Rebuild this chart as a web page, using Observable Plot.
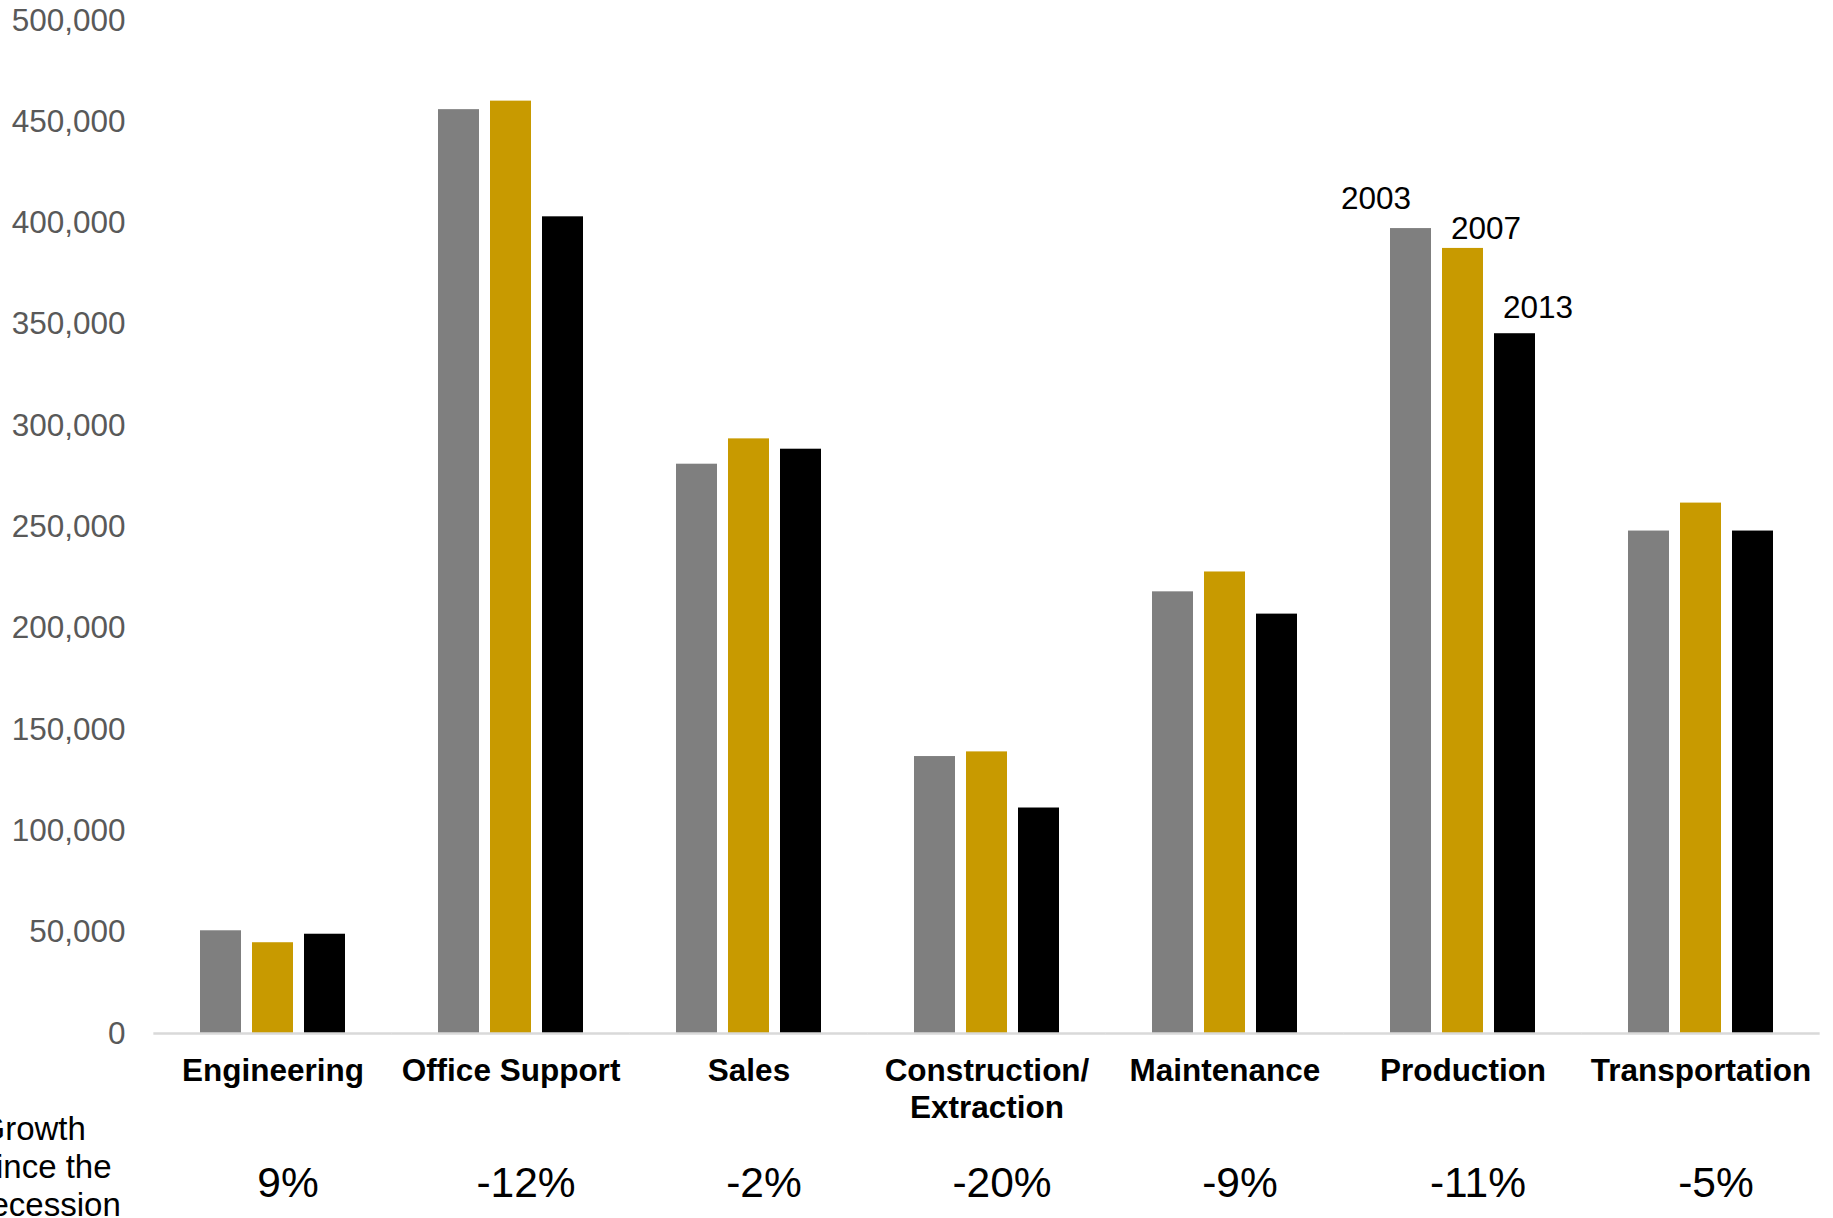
<!DOCTYPE html>
<html>
<head>
<meta charset="utf-8">
<script src="https://cdn.jsdelivr.net/npm/d3@7"></script>
<script src="https://cdn.jsdelivr.net/npm/@observablehq/plot@0.6"></script>
<style>
  body { margin: 0; background: #fff; }
</style>
</head>
<body>
<div id="chart"></div>
<script>
// Occupation groups along the bottom
const categories = [
  "Engineering",
  "Office Support",
  "Sales",
  "Construction/\nExtraction",
  "Maintenance",
  "Production",
  "Transportation"
];
const years = ["2003", "2007", "2013"];

// Employment by year, one value per occupation group
const jobs2003 = [50700, 456000, 281000, 136700, 218000, 397300, 248000];
const jobs2007 = [44800, 460200, 293500, 139000, 227800, 387500, 261800];
const jobs2013 = [49000, 403100, 288400, 111300, 207000, 345400, 248000];

// Change since the recession (2007 to 2013)
const growth = ["9%", "-12%", "-2%", "-20%", "-9%", "-11%", "-5%"];

const yTicks = [0, 50000, 100000, 150000, 200000, 250000, 300000, 350000, 400000, 450000, 500000];

const series = [jobs2003, jobs2007, jobs2013];
const rows = categories.flatMap((category, i) =>
  years.map((year, j) => ({category, year, jobs: series[j][i]}))
);
const growthRows = categories.map((category, i) => ({category, growth: growth[i]}));
const yearLabel = (year) => rows.filter((d) => d.category === "Production" && d.year === year);

const font = "Arial, 'Liberation Sans', Helvetica, sans-serif";

// half of the gap between neighbouring groups, so the baseline runs unbroken
const halfGap = 45.66;

const chart = Plot.plot({
  width: 1833,
  height: 1218,
  marginLeft: 153,
  marginRight: 14,
  marginTop: 20,
  marginBottom: 185,
  style: {fontFamily: font, background: "#fff", overflow: "visible"},
  fx: {domain: categories, paddingInner: 0.3836, paddingOuter: 0.1918, axis: null},
  x: {domain: years, paddingInner: 0.22, paddingOuter: 0, axis: null},
  y: {domain: [0, 500000], axis: null},
  color: {domain: years, range: ["#7f7f7f", "#c89a00", "#000000"]},
  marks: [
    Plot.axisY({
      ticks: yTicks,
      tickFormat: d3.format(","),
      tickSize: 0,
      tickPadding: 74,
      fontSize: 31.5,
      fill: "#595959",
      label: null
    }),
    Plot.barY(rows, {fx: "category", x: "year", y: "jobs", fill: "year"}),
    Plot.ruleY([0], {stroke: "#d9d9d9", strokeWidth: 2.5, insetLeft: -halfGap, insetRight: -halfGap}),
    Plot.axisFx({
      anchor: "bottom",
      tickSize: 0,
      tickPadding: 20.5,
      fontSize: 31.5,
      fontWeight: "bold",
      fill: "#000",
      lineHeight: 1.19,
      label: null
    }),
    // year call-outs on the Production group
    Plot.text(yearLabel("2003"), {fx: "category", x: "year", y: "jobs", text: "year", dx: -35, dy: -30, fontSize: 31.5, fill: "#000"}),
    Plot.text(yearLabel("2007"), {fx: "category", x: "year", y: "jobs", text: "year", dx: 23, dy: -20, fontSize: 31.5, fill: "#000"}),
    Plot.text(yearLabel("2013"), {fx: "category", x: "year", y: "jobs", text: "year", dx: 23, dy: -26, fontSize: 31.5, fill: "#000"}),
    // growth row under the category names
    Plot.text(growthRows, {fx: "category", text: "growth", frameAnchor: "bottom", lineAnchor: "middle", dx: 15, dy: 150, fontSize: 42.5, fill: "#000"}),
    Plot.text(["Growth\nsince the\nrecession"], {
      facet: "super",
      frameAnchor: "bottom-left",
      textAnchor: "start",
      lineAnchor: "middle",
      dx: -220,
      dy: 132.5,
      lineHeight: 1.15,
      fontSize: 33,
      fill: "#000"
    })
  ]
});

document.getElementById("chart").append(chart);
</script>
</body>
</html>
